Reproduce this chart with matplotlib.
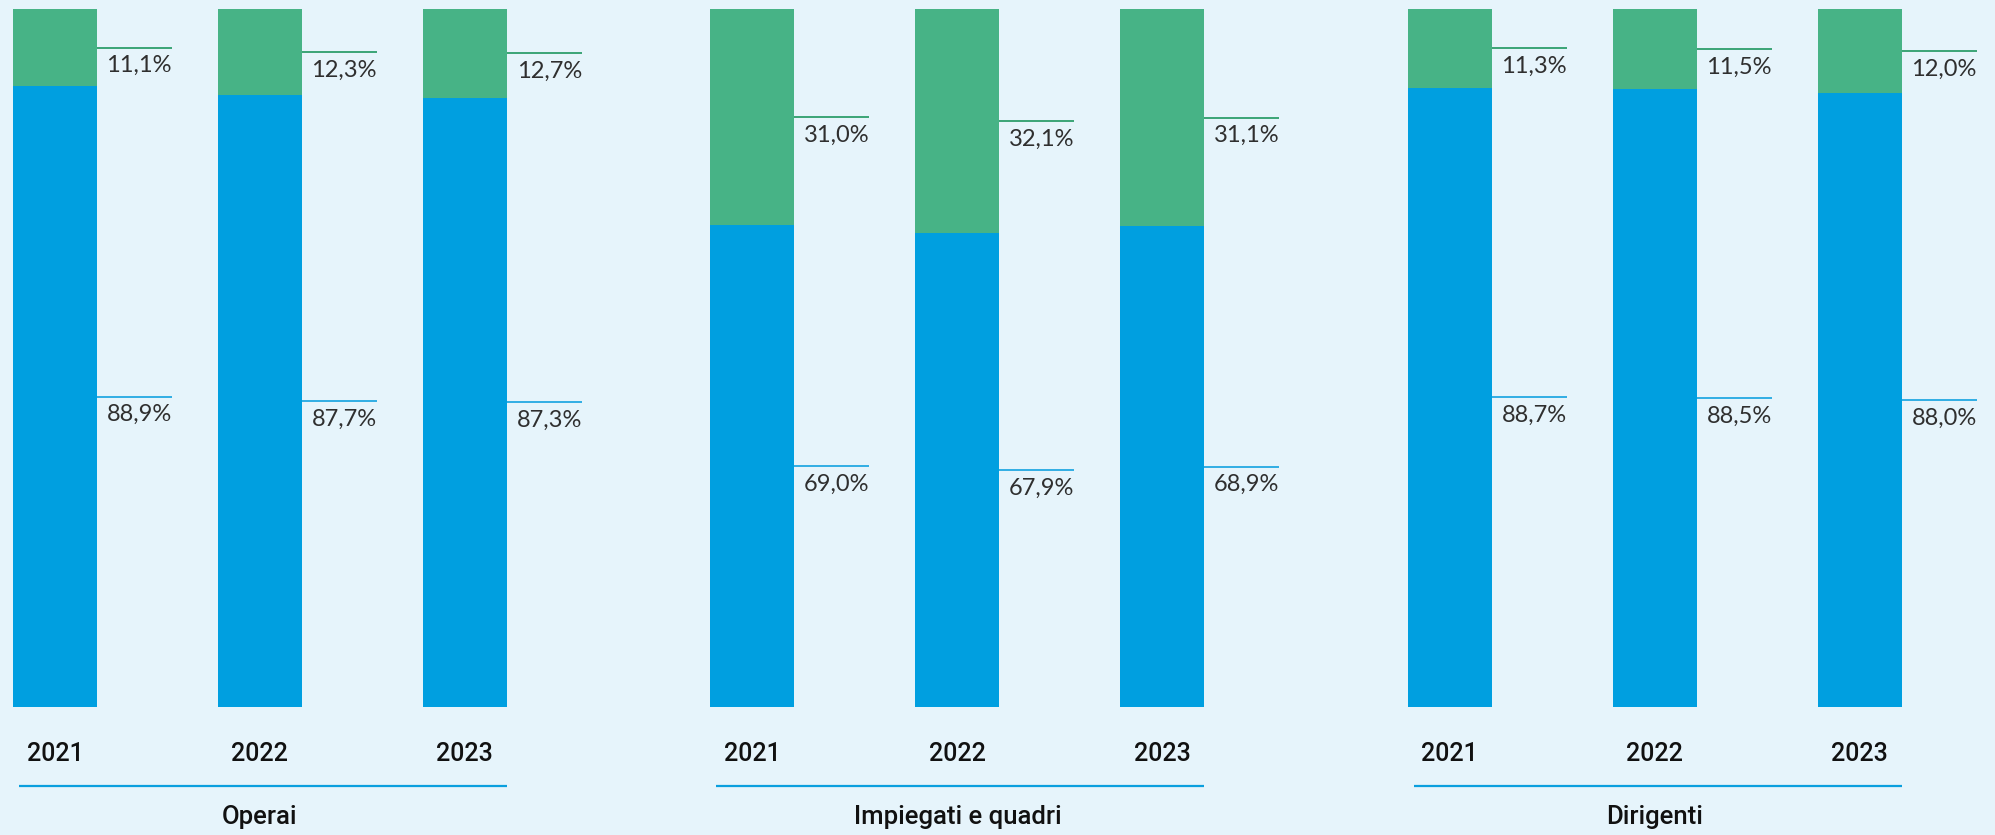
import matplotlib
matplotlib.use("Agg")
import matplotlib.pyplot as plt

# Data
groups = ["Operai", "Impiegati e quadri", "Dirigenti"]
years = ["2021", "2022", "2023"]
base_pct = [[88.9, 87.7, 87.3], [69.0, 67.9, 68.9], [88.7, 88.5, 88.0]]
top_pct = [[11.1, 12.3, 12.7], [31.0, 32.1, 31.1], [11.3, 11.5, 12.0]]

# Style
BG = "#E6F4FB"
BLUE = "#009FE0"
GREEN = "#47B386"
GREEN_LINE = "#2E9E6C"
BLUE_LINE = "#22A8E2"
SEP_LINE = "#0A9FDE"

GROUP_STEP = 3.402
BAR_W = 0.41
LEADER = 0.366

fig = plt.figure(figsize=(19.95, 8.35), dpi=100, facecolor=BG)
ax = fig.add_axes([0, 0, 1, 1])
ax.set_facecolor(BG)
ax.set_xlim(-0.268, 9.464)
ax.set_ylim(-18.34, 101.29)
ax.axis("off")


def fmt(v):
    return f"{v:.1f}".replace(".", ",") + "%"


for g, gname in enumerate(groups):
    xs = [g * GROUP_STEP + i for i in range(len(years))]
    for i, x in enumerate(xs):
        b = base_pct[g][i]
        t = top_pct[g][i]
        ax.bar(x, b, width=BAR_W, color=BLUE, linewidth=0)
        ax.bar(x, t, width=BAR_W, bottom=b, color=GREEN, linewidth=0)

        x0 = x + BAR_W / 2
        x1 = x0 + LEADER
        for ymid, val, lc in ((b + t / 2, t, GREEN_LINE), (b / 2, b, BLUE_LINE)):
            ax.plot([x0, x1], [ymid, ymid], color=lc, linewidth=1.3,
                    solid_capstyle="butt")
            ax.annotate(fmt(val), (x1, ymid), xytext=(0, -18),
                        textcoords="offset pixels", ha="right", va="center",
                        fontsize=17, family="Lato", color="#2F2F2F")

        ax.text(x, -6.8, years[i], ha="center", va="center", fontsize=18,
                family="Roboto", fontweight="medium", color="#111111")

    sep_x0 = xs[0] - 0.176
    sep_x1 = xs[-1] + BAR_W / 2
    ax.plot([sep_x0, sep_x1], [-11.36, -11.36], color=SEP_LINE,
            linewidth=1.6, solid_capstyle="butt")
    ax.text(xs[1], -15.73, gname, ha="center", va="center", fontsize=18.5,
            family="Roboto", fontweight="medium", color="#111111")

fig.savefig("out.png", dpi=100, facecolor=BG)
